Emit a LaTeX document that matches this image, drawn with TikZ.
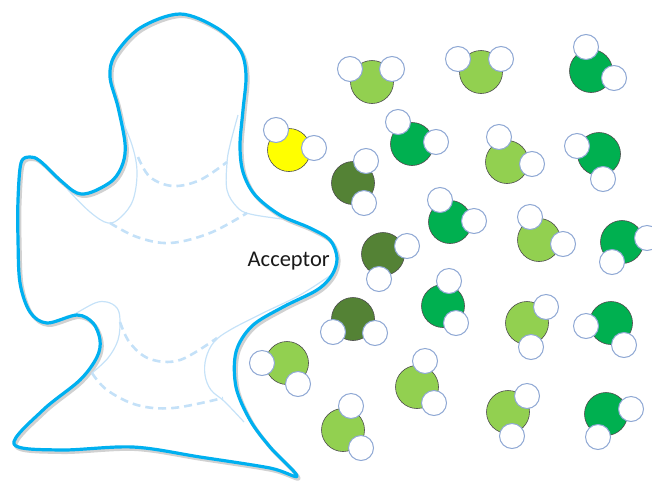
\documentclass[tikz,border=0pt]{standalone}
\usepackage{fontspec}
\newfontfamily\labelfont{Carlito}
\definecolor{rimblue}{HTML}{00B0F0}
\definecolor{paleblue}{HTML}{C6E2F8}
\definecolor{dashblue}{HTML}{C4E1F8}
\definecolor{lightgreen}{HTML}{92D050}
\definecolor{midgreen}{HTML}{00B050}
\definecolor{olivegreen}{HTML}{548235}
\definecolor{sulfur}{HTML}{FFFF00}
\definecolor{hrim}{HTML}{8FA8D4}
\tikzset{
  rim/.style={draw=rimblue, line width=3.2pt, line join=round},
  rimshadow/.style={draw=black, opacity=0.18, line width=3.6pt, line join=round},
  faint/.style={draw=paleblue, line width=1.2pt},
  dashfaint/.style={draw=dashblue, line width=2.6pt, dash pattern=on 8pt off 5pt},
  oxygen/.style={circle, draw=black!70, line width=0.6pt, minimum size=43pt, inner sep=0pt},
  hydrogen/.style={circle, draw=hrim, fill=white, line width=1pt, minimum size=25pt, inner sep=0pt},
}
\newcommand\watermol[5]{%
  \node[oxygen, fill=#2] (#1) at (#3) {};
  \node[hydrogen] (#1-ha) at (#4) {};
  \node[hydrogen] (#1-hb) at (#5) {};
}
\begin{document}
\begin{tikzpicture}[x=1pt, y=-1pt]
\useasboundingbox (0,0) rectangle (652,482);

% soft shadow under the acceptor rim
\draw[rimshadow, shift={(1.8,2.2)}] plot[smooth cycle, tension=0.55] coordinates {
  (180,14) (217,28) (240,50) (246,75) (243,110) (240,145) (243,172) (255,195)
  (280,215) (310,228) (330,240) (337,258) (332,275) (317,290) (283,307) (252,326)
  (236,352) (236,387) (250,420) (270,447) (297,476) (270,468) (200,457) (133,447)
  (60,450) (14,444) (43,410) (80,380) (97,357) (100,340) (93,323) (77,315) (47,323)
  (30,312) (20,283) (18,240) (18,200) (21,163) (30,157) (40,161) (60,180) (77,193)
  (92,192) (113,180) (123,163) (125,143) (118,107) (110,77) (115,55) (140,28)};

% inner contour lines of the acceptor
\draw[faint] plot[smooth, tension=0.6] coordinates {(119,113) (132,145) (137,172) (133,200) (121,217) (108,223) (90,212) (68,190)};
\draw[faint] plot[smooth, tension=0.6] coordinates {(238,115) (230,145) (227,163) (227,190) (237,207) (250,214) (282,219)};
\draw[dashfaint] plot[smooth, tension=0.6] coordinates {(138,157) (150,177) (173,186) (200,180) (227,162)};
\draw[dashfaint] plot[smooth, tension=0.6] coordinates {(110,223) (137,237) (170,243) (210,233) (247,213)};

\draw[faint] plot[smooth, tension=0.6] coordinates {(75,314) (95,303) (107,302) (117,308) (120,320) (118,340) (108,358) (92,373)};
\draw[faint] plot[smooth, tension=0.6] coordinates {(331,275) (300,295) (263,313) (230,330) (214,342) (206,358) (205,375) (211,390) (225,402) (244,422)};
\draw[dashfaint] plot[smooth, tension=0.6] coordinates {(120,322) (130,343) (150,359) (180,360) (217,338)};
\draw[dashfaint] plot[smooth, tension=0.6] coordinates {(92,373) (107,390) (137,405) (173,408) (223,398)};

% acceptor rim
\draw[rim] plot[smooth cycle, tension=0.55] coordinates {
  (180,14) (217,28) (240,50) (246,75) (243,110) (240,145) (243,172) (255,195)
  (280,215) (310,228) (330,240) (337,258) (332,275) (317,290) (283,307) (252,326)
  (236,352) (236,387) (250,420) (270,447) (297,476) (270,468) (200,457) (133,447)
  (60,450) (14,444) (43,410) (80,380) (97,357) (100,340) (93,323) (77,315) (47,323)
  (30,312) (20,283) (18,240) (18,200) (21,163) (30,157) (40,161) (60,180) (77,193)
  (92,192) (113,180) (123,163) (125,143) (118,107) (110,77) (115,55) (140,28)};

\node[anchor=base west, inner sep=0pt, text=black!90, font=\labelfont\fontsize{22.5}{27}\selectfont] (acceptor) at (247.5,266) {Acceptor};

% water molecules
\watermol{w1}{sulfur}{289,150}{276,130}{314,148}
\watermol{w2}{lightgreen}{372,82}{350,69}{392,69}
\watermol{w3}{lightgreen}{481,72}{458,59}{501,59}
\watermol{w4}{midgreen}{591,71}{586,47}{614,78}
\watermol{w5}{midgreen}{412,144}{398,122}{436,142}
\watermol{w6}{lightgreen}{507,162}{499,137}{532,164}
\watermol{w7}{midgreen}{599,154}{577,146}{603,179}
\watermol{w8}{olivegreen}{353,183}{366,161}{364,203}
\watermol{w9}{midgreen}{450,222}{440,200}{474,221}
\watermol{w10}{lightgreen}{539,240}{530,217}{563,244}
\watermol{w11}{midgreen}{622,242}{612,262}{647,238}
\watermol{w12}{olivegreen}{383,254}{407,246}{379,279}
\watermol{w13}{midgreen}{443,306}{449,281}{456,323}
\watermol{w14}{olivegreen}{353,319}{333,332}{375,333}
\watermol{w15}{lightgreen}{287,363}{262,363}{298,384}
\watermol{w16}{lightgreen}{417,387}{425,361}{434,403}
\watermol{w17}{lightgreen}{343,430}{351,406}{361,448}
\watermol{w18}{lightgreen}{527,323}{546,307}{531,347}
\watermol{w19}{midgreen}{611,323}{586,326}{624,345}
\watermol{w20}{lightgreen}{508,412}{527,396}{512,436}
\watermol{w21}{midgreen}{606,414}{631,409}{598,437}
\end{tikzpicture}
\end{document}
